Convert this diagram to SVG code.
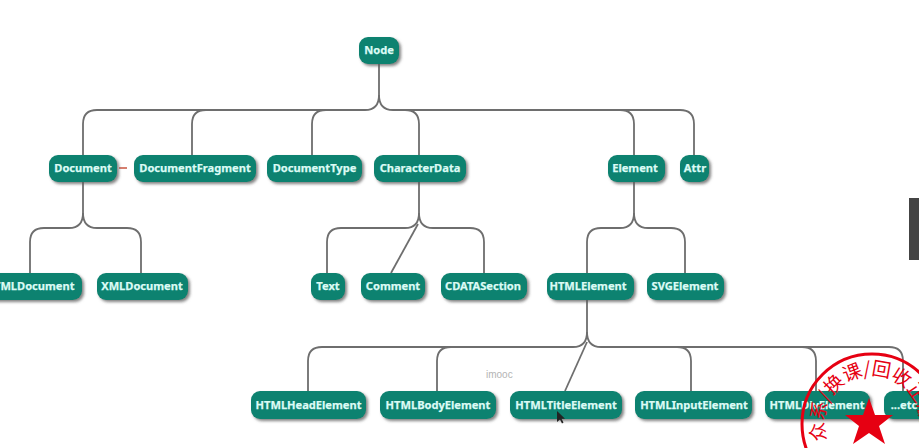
<svg xmlns="http://www.w3.org/2000/svg" width="919" height="448" viewBox="0 0 919 448">
<defs>
<filter id="sh" x="-20%" y="-30%" width="140%" height="170%"><feDropShadow dx="2" dy="2" stdDeviation="1.4" flood-color="#5a5a5a" flood-opacity="0.75"/></filter>
<path id="ring" d="M 827 440 A 48 48 0 1 1 915 445"/>
</defs>
<style>
.c{fill:none;stroke:#6e6e6e;stroke-width:1.8}
.n rect{fill:#0a8270;filter:url(#sh)}
.n text{font-family:"Noto Sans",sans-serif;font-weight:700;font-size:11.1px;fill:#dcfbf5;stroke:#dcfbf5;stroke-width:.25;text-anchor:middle;dominant-baseline:central}
</style>
<rect width="919" height="448" fill="#fff"/>
<g id="connectors">
<path class="c" d="M379 64V95Q379 110 365 110H97Q83 110 83 124V155"/>
<path class="c" d="M379 95Q379 110 393 110H405Q419 110 419 124V155"/>
<path class="c" d="M192 155V124Q192 110 206 110H365"/>
<path class="c" d="M312 155V124Q312 110 326 110"/>
<path class="c" d="M393 110H620Q634 110 634 124V155"/>
<path class="c" d="M620 110H680Q694 110 694 124V155"/>
<path class="c" d="M83 182V213Q83 228 69 228H44Q30 228 30 242V273"/>
<path class="c" d="M83 213Q83 228 97 228H127Q141 228 141 242V273"/>
<path class="c" d="M419 182V213Q419 228 405 228H341Q327 228 327 242V273"/>
<path class="c" d="M418 224L391 273"/>
<path class="c" d="M419 213Q419 228 433 228H470Q484 228 484 242V273"/>
<path class="c" d="M634 182V213Q634 228 620 228H601Q587 228 587 242V273"/>
<path class="c" d="M634 213Q634 228 648 228H671Q685 228 685 242V273"/>
<path class="c" d="M587 300V332Q587 347 573 347H322Q308 347 308 361V391"/>
<path class="c" d="M451 347Q437 347 437 361V391"/>
<path class="c" d="M587 342L565 391"/>
<path class="c" d="M587 332Q587 347 601 347H889Q903 347 903 361V391"/>
<path class="c" d="M677 347Q691 347 691 361V391"/>
<path class="c" d="M802 347Q816 347 816 361V391"/>
<path d="M119 168H127" fill="none" stroke="#c8553f" stroke-width="1.5"/>
</g>
<g id="node" class="n"><rect x="359" y="37" width="40" height="27" rx="9"/><text x="379" y="49.500">Node</text></g>
<g id="document" class="n"><rect x="49" y="155" width="68" height="27" rx="9"/><text x="83" y="167.500">Document</text></g>
<g id="documentfragment" class="n"><rect x="134" y="155" width="122" height="27" rx="9"/><text x="195" y="167.500">DocumentFragment</text></g>
<g id="documenttype" class="n"><rect x="267" y="155" width="95" height="27" rx="9"/><text x="314.500" y="167.500">DocumentType</text></g>
<g id="characterdata" class="n"><rect x="374" y="155" width="92" height="27" rx="9"/><text x="420" y="167.500">CharacterData</text></g>
<g id="element" class="n"><rect x="608" y="155" width="57" height="27" rx="9"/><text x="635" y="167.500">Element</text></g>
<g id="attr" class="n"><rect x="680" y="155" width="29" height="27" rx="9"/><text x="695" y="167.500">Attr</text></g>
<g id="htmldocument" class="n"><rect x="-24" y="273" width="106" height="27" rx="9"/><text x="30" y="285.500">HTMLDocument</text></g>
<g id="xmldocument" class="n"><rect x="97" y="273" width="91" height="27" rx="9"/><text x="142" y="285.500">XMLDocument</text></g>
<g id="text" class="n"><rect x="311" y="273" width="34" height="27" rx="9"/><text x="328" y="285.500">Text</text></g>
<g id="comment" class="n"><rect x="361" y="273" width="64" height="27" rx="9"/><text x="393" y="285.500">Comment</text></g>
<g id="cdatasection" class="n"><rect x="441" y="273" width="86" height="27" rx="9"/><text x="483" y="285.500">CDATASection</text></g>
<g id="htmlelement" class="n"><rect x="547" y="273" width="87" height="27" rx="9"/><text x="588" y="285.500">HTMLElement</text></g>
<g id="svgelement" class="n"><rect x="647" y="273" width="77" height="27" rx="9"/><text x="685" y="285.500">SVGElement</text></g>
<g id="htmlheadelement" class="n"><rect x="251" y="391" width="115" height="28" rx="9"/><text x="308.500" y="404.500">HTMLHeadElement</text></g>
<g id="htmlbodyelement" class="n"><rect x="380" y="391" width="116" height="28" rx="9"/><text x="438" y="404.500">HTMLBodyElement</text></g>
<g id="htmltitleelement" class="n"><rect x="510" y="391" width="112" height="28" rx="9"/><text x="566" y="404.500">HTMLTitleElement</text></g>
<g id="htmlinputelement" class="n"><rect x="635" y="391" width="117" height="28" rx="9"/><text x="694" y="404.500">HTMLInputElement</text></g>
<g id="htmldivelement" class="n"><rect x="765" y="391" width="105" height="28" rx="9"/><text x="817" y="404.500">HTMLDivElement</text></g>
<g id="etc" class="n"><rect x="884" y="391" width="50" height="28" rx="9"/><text x="904" y="404.500">...etc</text></g>
<text x="486" y="378" font-family="Liberation Sans,sans-serif" font-size="10px" fill="#b4b4b4">imooc</text>
<path d="M557 411V422L560 419.500L562 423.500L563.500 422.500L561.500 418.800H565Z" fill="#222"/>
<rect x="909" y="198" width="10" height="62" fill="#444"/>
<g id="stamp">
<circle cx="872" cy="424" r="70" fill="none" stroke="#e60012" stroke-width="3"/>
<path d="M869 398L875 415H893L879 426L885 444L869 433L853 444L859 426L845 415H863Z" fill="#e60012"/>
<text font-family="Noto Sans CJK SC,sans-serif" font-size="19px" fill="#e60012"><textPath href="#ring">众系/换课/回收正版</textPath></text>
</g>
</svg>
